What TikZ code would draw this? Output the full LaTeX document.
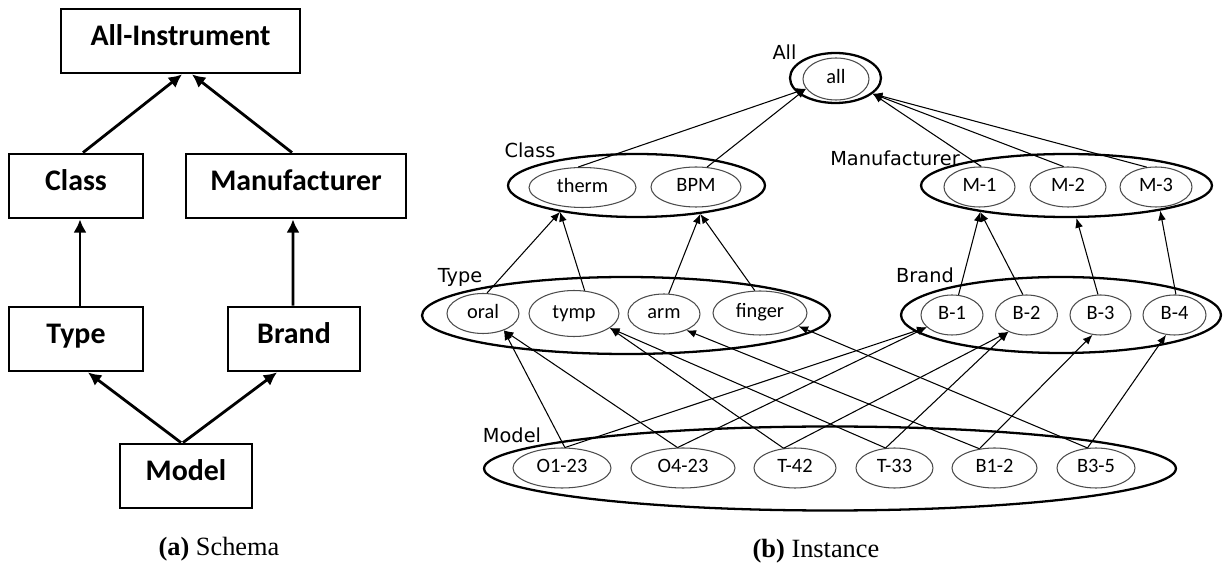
\documentclass[tikz,border=0pt]{standalone}
\usepackage{fontspec}
\setmainfont{Liberation Serif}
\newfontfamily\calfont{Carlito}
\newfontfamily\tagfont{DejaVu Sans}
\usetikzlibrary{shapes.geometric,arrows.meta}

\begin{document}
\begin{tikzpicture}[
    x=0.02cm, y=-0.02cm,
    box/.style={
        draw,
        line width=1.6pt,
        minimum height=1.28cm,
        inner sep=0pt,
        text height=1.45ex,
        text depth=0.35ex,
        font=\calfont\bfseries\fontsize{17}{20}\selectfont
    },
    arrow/.style={-{Latex[length=7.5pt,width=7.5pt]}, line width=1.6pt},
    group/.style={draw, ellipse, line width=1.3pt, inner sep=0pt},
    item/.style={
        draw=black!70,
        ellipse,
        line width=0.6pt,
        inner sep=0pt,
        minimum height=0.8cm,
        text height=1.5ex,
        text depth=0.35ex,
        font=\calfont\fontsize{11.6}{13}\selectfont
    },
    tag/.style={font=\tagfont\fontsize{11}{13}\selectfont, inner sep=0pt},
    link/.style={-{Latex[length=5.5pt,width=4.5pt]}, line width=0.6pt}
]
\useasboundingbox (0,0) rectangle (1228,567);

% Schema
\node[box, minimum width=4.78cm] (allinst) at (180.5,41) {All-Instrument};
\node[box, minimum width=2.68cm] (class) at (76,186) {Class};
\node[box, minimum width=4.4cm] (manuf) at (296,186) {Manufacturer};
\node[box, minimum width=2.68cm] (type) at (76,339) {Type};
\node[box, minimum width=2.64cm] (brand) at (294,339) {Brand};
\node[box, minimum width=2.64cm] (model) at (186,476) {Model};

\draw[arrow] ([xshift=0.14cm]class.north) -- ([xshift=0.03cm]allinst.south);
\draw[arrow] ([xshift=-0.08cm]manuf.north) -- ([xshift=0.23cm]allinst.south);
\draw[arrow] ([xshift=0.08cm]type.north) -- ([xshift=0.08cm]class.south);
\draw[arrow] ([xshift=-0.02cm]brand.north) -- ([xshift=-0.06cm]manuf.south);
\draw[arrow] ([xshift=-0.1cm]model.north) -- ([xshift=0.24cm]type.south);
\draw[arrow] ([xshift=-0.06cm]model.north) -- ([xshift=-0.34cm]brand.south);

\node (capa) at (219,549) {\fontsize{15}{17}\selectfont\textbf{(a)} Schema};

% Instance: level sets
\node[group, minimum width=1.82cm, minimum height=1.0cm] (allset) at (835.5,78) {};
\node[group, minimum width=5.14cm, minimum height=1.26cm] (classset) at (636.5,185.5) {};
\node[group, minimum width=5.82cm, minimum height=1.26cm] (manufset) at (1066.5,185.5) {};
\node[group, minimum width=8.16cm, minimum height=1.54cm] (typeset) at (626,315.5) {};
\node[group, minimum width=6.4cm, minimum height=1.52cm] (brandset) at (1061,315) {};
\node[group, minimum width=13.84cm, minimum height=1.68cm] (modelset) at (830,468.5) {};

\node[tag] (tagall) at (784.5,52) {All};
\node[tag] (tagclass) at (530,150) {Class};
\node[tag] (tagmanuf) at (895,158) {Manufacturer};
\node[tag] (tagtype) at (460,277) {Type};
\node[tag] (tagbrand) at (925,275) {Brand};
\node[tag] (tagmodel) at (512,435) {Model};

% Instance: members
\node[item, minimum width=1.32cm, minimum height=0.84cm] (all) at (836,79) {all};
\node[item, minimum width=2.14cm] (therm) at (582.5,187.5) {therm};
\node[item, minimum width=1.8cm] (bpm) at (696,187) {BPM};
\node[item, minimum width=1.42cm] (m1) at (979.5,187) {M-1};
\node[item, minimum width=1.52cm] (m2) at (1068,187) {M-2};
\node[item, minimum width=1.44cm] (m3) at (1156,187) {M-3};
\node[item, minimum width=1.44cm] (oral) at (483,313.5) {oral};
\node[item, minimum width=1.8cm, minimum height=0.92cm] (tymp) at (574,313.5) {tymp};
\node[item, minimum width=1.44cm] (arm) at (664,314) {arm};
\node[item, minimum width=1.88cm, minimum height=0.88cm] (finger) at (760,313) {finger};
\node[item, minimum width=1.24cm] (b1) at (952,315) {B-1};
\node[item, minimum width=1.24cm] (b2) at (1026.5,315) {B-2};
\node[item, minimum width=1.22cm] (b3) at (1100.5,315) {B-3};
\node[item, minimum width=1.26cm] (b4) at (1174.5,315) {B-4};
\node[item, minimum width=1.96cm] (o123) at (562,468) {O1-23};
\node[item, minimum width=2.08cm] (o423) at (683,468) {O4-23};
\node[item, minimum width=1.64cm] (t42) at (795,468) {T-42};
\node[item, minimum width=1.54cm] (t33) at (894.5,468) {T-33};
\node[item, minimum width=1.7cm] (b12) at (994.5,468) {B1-2};
\node[item, minimum width=1.56cm] (b35) at (1096,468) {B3-5};

% up to all
\draw[link] (therm.102) -- (all.198);
\draw[link] (bpm.61) -- (all.198);
\draw[link] (m1.85) -- (allset.-23);
\draw[link] (m2.102) -- (allset.-23);
\draw[link] (m3.115) -- (allset.-23);

% type -> class, brand -> manufacturer
\draw[link] (oral.79) -- (classset.199);
\draw[link] (tymp.65) -- (classset.199);
\draw[link] (arm.77) -- (classset.-24);
\draw[link] (finger.103) -- (classset.-24);
\draw[link] (b1.72) -- (manufset.197);
\draw[link] (b2.100) -- (manufset.197);
\draw[link] (b3.97) -- (manufset.-73);
\draw[link] (b4.86) -- (manufset.-15);

% model -> type and brand
\draw[link] (o123.82) -- (oral.-39);
\draw[link] (o123.82) -- (b1.206);
\draw[link] (o423.105) -- (oral.-39);
\draw[link] (o423.105) -- (b1.206);
\draw[link] (t42.120) -- (tymp.-22);
\draw[link] (t42.120) -- (b2.223);
\draw[link] (t33.114) -- (tymp.-22);
\draw[link] (t33.114) -- (b2.223);
\draw[link] (b12.128) -- (arm.-36);
\draw[link] (b12.128) -- (b3.-112);
\draw[link] (b35.113) -- (finger.-19);
\draw[link] (b35.113) -- (b4.-113);

\node (capb) at (816,551) {\fontsize{15}{17}\selectfont\textbf{(b)} Instance};

\end{tikzpicture}
\end{document}
